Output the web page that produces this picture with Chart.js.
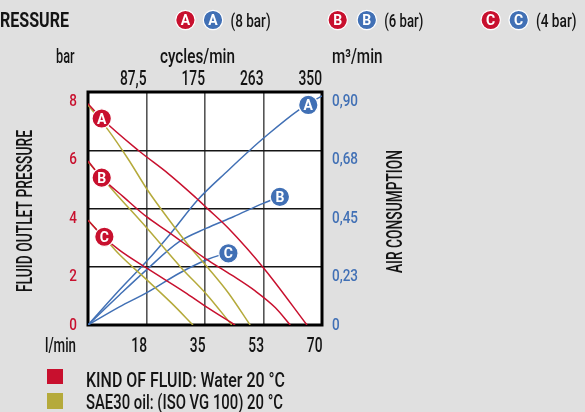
<!DOCTYPE html>
<html>
<head>
<meta charset="utf-8">
<script src="https://cdn.jsdelivr.net/npm/chart.js@4/dist/chart.umd.min.js"></script>
<style>
  html, body { margin: 0; padding: 0; background: #e0e0e0; }
  canvas { display: block; }
</style>
</head>
<body>
<canvas id="pump" width="585" height="412"></canvas>
<script>
// ---- axis ticks ----
const flowTicks = [17.5, 35, 52.5, 70];            // l/min
const flowTickLabels = ['18', '35', '53', '70'];
const cycleTicks = [87.5, 175, 262.5, 350];        // cycles/min
const cycleTickLabels = ['87,5', '175', '263', '350'];
const pressureTicks = [0, 2, 4, 6, 8];             // bar
const pressureTickLabels = ['0', '2', '4', '6', '8'];
const airTicks = [0, 0.225, 0.45, 0.675, 0.9];     // m3/min
const airTickLabels = ['0', '0,23', '0,45', '0,68', '0,90'];

// ---- fluid outlet pressure, water (bar vs l/min) ----
const waterA_flow = [0, 4.1, 15, 24, 32, 36, 42, 53, 65.5];
const waterA_bar  = [7.6, 7.09, 6.0, 5.2, 4.4, 3.97, 3.32, 1.89, 0];
const waterB_flow = [0, 4.1, 10.6, 17.6, 24, 35, 43, 50, 56, 60.5];
const waterB_bar  = [5.63, 5.06, 4.4, 3.71, 3.2, 2.29, 1.71, 1.17, 0.6, 0];
const waterC_flow = [0, 4.7, 9.4, 17.6, 29, 35.3, 44];
const waterC_bar  = [3.6, 3.02, 2.57, 1.95, 1.12, 0.63, 0];

// ---- fluid outlet pressure, SAE30 oil (bar vs l/min) ----
const oilA_flow = [0, 6, 12, 18, 24, 30, 36, 42, 48.5];
const oilA_bar  = [7.55, 6.7, 5.7, 4.6, 3.65, 2.75, 1.95, 1.1, 0];
const oilB_flow = [0, 8, 17.6, 28, 35.5, 43];
const oilB_bar  = [5.6, 4.55, 3.33, 1.95, 1.05, 0];
const oilC_flow = [0, 5, 9.4, 17.6, 25, 31.4];
const oilC_bar  = [3.6, 2.98, 2.42, 1.55, 0.75, 0];

// ---- air consumption (m3/min vs l/min) ----
const airA_flow = [0, 9.4, 17.4, 24.3, 32.8, 42, 48.5, 53, 63, 70];
const airA_m3   = [0, 0.135, 0.244, 0.347, 0.483, 0.598, 0.676, 0.727, 0.83, 0.885];
const airB_flow = [0, 9.4, 17.4, 27.3, 35.3, 43.5, 52.4, 57.4];
const airB_m3   = [0, 0.116, 0.212, 0.322, 0.373, 0.418, 0.47, 0.495];
const airC_flow = [0, 9.4, 17.6, 27.3, 35.3, 39, 42];
const airC_m3   = [0, 0.07, 0.125, 0.2, 0.251, 0.268, 0.277];

// ---- curve badges ----
const badgeLetters = ['A', 'B', 'C'];
const badgeRatings = ['(8 bar)', '(6 bar)', '(4 bar)'];
const pressureBadgeFlow = [4.1, 4.1, 4.9];
const pressureBadgeBar  = [7.09, 5.06, 3.03];
const airBadgeFlow = [65.9, 57.4, 42];
const airBadgeM3   = [0.85, 0.495, 0.277];

// ---- legend ----
const fluidLegend = ['KIND OF FLUID: Water 20 °C', 'SAE30 oil: (ISO VG 100) 20 °C'];

const RED = '#c8102e';
const BLUE = '#4170b5';
const OLIVE = '#b5aa3b';
const INK = '#141414';
const FAMILY = 'Roboto, "DejaVu Sans Condensed", sans-serif';
const BADGE_FONT = 'bold 14px Roboto, "Liberation Sans", Arial, sans-serif';

function pts(xs, ys) { return xs.map((x, i) => ({ x: x, y: ys[i] })); }

function curve(xs, ys, color, axis) {
  return {
    data: pts(xs, ys), yAxisID: axis, showLine: true,
    borderColor: color, borderWidth: 1.5, pointRadius: 0,
    cubicInterpolationMode: 'monotone', order: 2
  };
}

function badges(xs, ys, color, axis) {
  return {
    data: pts(xs, ys), yAxisID: axis, showLine: false,
    pointRadius: 9.7, pointHoverRadius: 9.7,
    pointBackgroundColor: color, pointBorderColor: '#ffffff', pointBorderWidth: 1.2,
    clip: false, order: 0, badge: true
  };
}

// text in a condensed cut: squeezed to a set width, or by a set factor
function label(ctx, str, x, y, o) {
  ctx.save();
  ctx.font = o.font;
  ctx.fillStyle = o.color || INK;
  ctx.textBaseline = 'alphabetic';
  ctx.textAlign = o.align || 'left';
  const w = ctx.measureText(str).width;
  ctx.translate(x, y);
  if (o.rotate) ctx.rotate(o.rotate);
  if (o.width) ctx.scale(o.width / w, 1);
  else if (o.squeeze) ctx.scale(o.squeeze, 1);
  ctx.fillText(str, 0, 0);
  ctx.restore();
}

function squeezeFor(ctx, font, sample, width) {
  ctx.save();
  ctx.font = font;
  const w = ctx.measureText(sample).width;
  ctx.restore();
  return width / w;
}

function disc(ctx, x, y, color, letter) {
  ctx.save();
  ctx.beginPath();
  ctx.arc(x, y, 9.7, 0, Math.PI * 2);
  ctx.fillStyle = color;
  ctx.fill();
  ctx.lineWidth = 1.2;
  ctx.strokeStyle = '#ffffff';
  ctx.stroke();
  ctx.restore();
  label(ctx, letter, x, y + 5, { font: BADGE_FONT, color: '#ffffff', align: 'center' });
}

const decor = {
  id: 'decor',
  beforeDraw(chart) {
    const { ctx, chartArea: a } = chart;
    ctx.save();
    ctx.fillStyle = '#ffffff';
    ctx.fillRect(a.left, a.top, a.right - a.left, a.bottom - a.top);
    ctx.restore();
  },
  beforeDatasetsDraw(chart) {
    const { ctx, chartArea: a } = chart;
    ctx.save();
    ctx.lineWidth = 3;
    ctx.strokeStyle = '#000000';
    ctx.strokeRect(a.left, a.top, a.right - a.left, a.bottom - a.top);
    ctx.restore();
  },
  afterDatasetsDraw(chart) {
    const ctx = chart.ctx;
    chart.data.datasets.forEach((ds, i) => {
      if (!ds.badge) return;
      chart.getDatasetMeta(i).data.forEach((pt, j) => {
        label(ctx, badgeLetters[j], pt.x, pt.y + 5, { font: BADGE_FONT, color: '#ffffff', align: 'center' });
      });
    });
  },
  afterDraw(chart) {
    const ctx = chart.ctx;
    const sx = chart.scales.x, sx2 = chart.scales.x2, sy = chart.scales.y, sy2 = chart.scales.y2;
    const tickFont = '500 19.5px ' + FAMILY;
    const sideFont = '500 16.5px ' + FAMILY;
    const tickSqueeze = squeezeFor(ctx, tickFont, '350', 23.5);
    const sideSqueeze = squeezeFor(ctx, sideFont, '0,90', 26);

    // heading and curve key
    label(ctx, 'RESSURE', 0, 27, { font: 'bold 20px ' + FAMILY, width: 69 });
    const keyRed = [185.4, 337.7, 490.7];
    const keyBlue = [213, 366.8, 518.7];
    const keyText = [[230.6, 40], [384.3, 39], [536, 40.5]];
    badgeLetters.forEach((L, i) => {
      disc(ctx, keyRed[i], 20, RED, L);
      disc(ctx, keyBlue[i], 20, BLUE, L);
      label(ctx, badgeRatings[i], keyText[i][0], 26.5, { font: '500 18px ' + FAMILY, width: keyText[i][1] });
    });

    // unit captions
    label(ctx, 'bar', 56, 62.5, { font: '500 19.5px ' + FAMILY, width: 18.6 });
    label(ctx, 'cycles/min', 160, 62.5, { font: '500 19.5px ' + FAMILY, width: 75 });
    label(ctx, 'm³/min', 332, 62.5, { font: '500 19.5px ' + FAMILY, width: 50.5 });
    label(ctx, 'l/min', 45, 351.5, { font: '500 19.5px ' + FAMILY, width: 31 });

    // cycle ticks (top) and flow ticks (bottom), right-aligned on their grid line
    cycleTicks.forEach((v, i) => {
      label(ctx, cycleTickLabels[i], sx2.getPixelForValue(v), 85, { font: tickFont, align: 'right', squeeze: tickSqueeze });
    });
    flowTicks.forEach((v, i) => {
      label(ctx, flowTickLabels[i], sx.getPixelForValue(v) + 0.5, 351.5, { font: tickFont, align: 'right', squeeze: tickSqueeze });
    });

    // pressure ticks (left, red) and air ticks (right, blue): hung just under the grid line,
    // except the baseline value which sits on the axis
    pressureTicks.forEach((v, i) => {
      const y = sy.getPixelForValue(v) + (v === 0 ? 5 : 14);
      label(ctx, pressureTickLabels[i], 77, y, { font: sideFont, color: RED, align: 'right', squeeze: sideSqueeze });
    });
    airTicks.forEach((v, i) => {
      const y = sy2.getPixelForValue(v) + (v === 0 ? 5 : 14);
      label(ctx, airTickLabels[i], 332, y, { font: sideFont, color: BLUE, squeeze: sideSqueeze });
    });

    // axis titles
    label(ctx, 'FLUID OUTLET PRESSURE', 31.5, 211, { font: '500 22px ' + FAMILY, align: 'center', rotate: -Math.PI / 2, width: 162 });
    label(ctx, 'AIR CONSUMPTION', 402, 211.5, { font: '500 22px ' + FAMILY, align: 'center', rotate: -Math.PI / 2, width: 123 });

    // fluid key
    ctx.save();
    ctx.fillStyle = RED;
    ctx.fillRect(47, 369, 16, 15);
    ctx.fillStyle = OLIVE;
    ctx.fillRect(47, 393, 16, 16);
    ctx.restore();
    label(ctx, fluidLegend[0], 86, 387, { font: '500 21px ' + FAMILY, width: 199 });
    label(ctx, fluidLegend[1], 86, 408.5, { font: '500 21px ' + FAMILY, width: 197 });
  }
};

new Chart(document.getElementById('pump'), {
  type: 'scatter',
  data: {
    datasets: [
      badges(pressureBadgeFlow, pressureBadgeBar, RED, 'y'),
      badges(airBadgeFlow, airBadgeM3, BLUE, 'y2'),
      curve(waterA_flow, waterA_bar, RED, 'y'),
      curve(waterB_flow, waterB_bar, RED, 'y'),
      curve(waterC_flow, waterC_bar, RED, 'y'),
      curve(oilA_flow, oilA_bar, OLIVE, 'y'),
      curve(oilB_flow, oilB_bar, OLIVE, 'y'),
      curve(oilC_flow, oilC_bar, OLIVE, 'y'),
      curve(airA_flow, airA_m3, BLUE, 'y2'),
      curve(airB_flow, airB_m3, BLUE, 'y2'),
      curve(airC_flow, airC_m3, BLUE, 'y2')
    ]
  },
  options: {
    responsive: false,
    animation: false,
    events: [],
    layout: { padding: { left: 88, top: 92, right: 263, bottom: 87 } },
    plugins: { legend: { display: false }, tooltip: { enabled: false } },
    scales: {
      x: {
        type: 'linear', position: 'bottom', min: 0, max: 70,
        ticks: { display: false, stepSize: 17.5 },
        grid: { color: '#555555', lineWidth: 1.6, drawTicks: false },
        border: { display: false }
      },
      x2: { type: 'linear', position: 'top', axis: 'x', min: 0, max: 350, display: false },
      y: {
        type: 'linear', position: 'left', min: 0, max: 8,
        ticks: { display: false, stepSize: 2 },
        grid: { color: '#151515', lineWidth: 1.4, drawTicks: false },
        border: { display: false }
      },
      y2: { type: 'linear', position: 'right', min: 0, max: 0.9, display: false }
    }
  },
  plugins: [decor]
});
</script>
</body>
</html>
